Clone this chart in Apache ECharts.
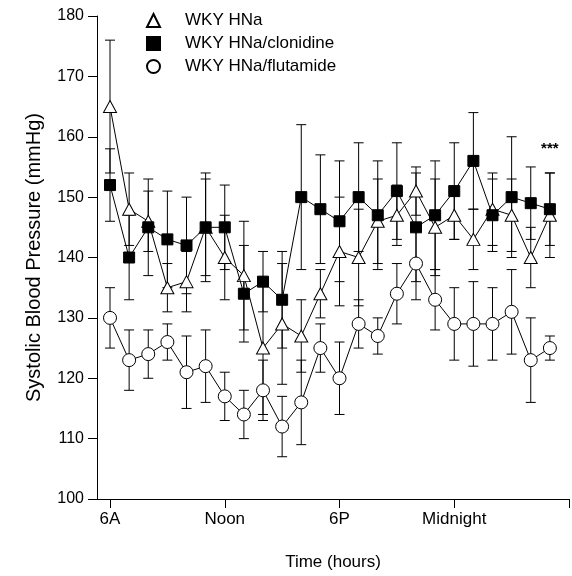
<!DOCTYPE html>
<html>
<head>
<meta charset="utf-8">
<script src="https://cdn.jsdelivr.net/npm/echarts@6/dist/echarts.min.js"></script>
<style>
html,body{margin:0;padding:0;background:#fff;}
#chart_div{width:572px;height:576px;}
</style>
</head>
<body>
<div id="chart_div"></div>
<script>
var FONT = "'Liberation Sans', Arial, sans-serif";

// hours after 6A
var hours = [0,1,2,3,4,5,6,7,8,9,10,11,12,13,14,15,16,17,18,19,20,21,22,23];
var tickHours = [0,6,12,18,24];
var tickLabels = ["6A","Noon","6P","Midnight",""];

var hnaMean = [165,148,146,135,136,145,140,137,125,129,127,134,141,140,146,147,151,145,147,143,148,147,140,147];
var hnaErr = [11,6,5,4,5,8,7,9,11,10,6,4,9,8,7,5,4,8,4,5,6,6,5,7];

var cloMean = [152,140,145,143,142,145,145,134,136,133,150,148,146,150,147,151,145,147,151,156,147,150,149,148];
var cloErr = [6,7,8,8,8,9,7,8,5,8,12,9,10,9,9,8,9,9,8,8,6,10,6,6];

var fluMean = [130,123,124,126,121,122,117,114,118,112,116,125,120,129,127,134,139,133,129,129,129,131,123,125];
var fluErr = [5,5,4,3,6,6,4,4,5,5,7,4,6,4,3,5,6,5,6,7,6,7,7,2];

var starMark = [23, 158];

function pointData(mean){
	var list = [];
	for(var i=0,l=mean.length;i<l;i++){
		list.push([hours[i], mean[i]]);
	}
	return list;
}

function errData(mean, err){
	var list = [];
	for(var i=0,l=mean.length;i<l;i++){
		list.push([hours[i], mean[i]-err[i], mean[i]+err[i]]);
	}
	return list;
}

// 误差线
function renderErrorBar(params, api){
	var low = api.coord([api.value(0), api.value(1)]);
	var high = api.coord([api.value(0), api.value(2)]);
	var w = 5;
	var style = {stroke:'#000', lineWidth:1};
	return {
		type:'group',
		children:[
			{type:'line', shape:{x1:low[0], y1:low[1], x2:high[0], y2:high[1]}, style:style},
			{type:'line', shape:{x1:low[0]-w, y1:low[1], x2:low[0]+w, y2:low[1]}, style:style},
			{type:'line', shape:{x1:high[0]-w, y1:high[1], x2:high[0]+w, y2:high[1]}, style:style}
		]
	};
}

function errSeries(name, mean, err){
	return {
		name:name + '-err',
		type:'custom',
		renderItem:renderErrorBar,
		data:errData(mean, err),
		encode:{x:0, y:[1,2]},
		z:1,
		silent:true
	};
}

function lineSeries(name, mean, symbol, size, fill, z){
	return {
		name:name,
		type:'line',
		data:pointData(mean),
		symbol:symbol,
		symbolSize:size,
		showAllSymbol:true,
		lineStyle:{color:'#000', width:1},
		itemStyle:{color:fill, borderColor:'#000', borderWidth:1},
		z:z,
		animation:false
	};
}

var chart = echarts.init(document.getElementById("chart_div"));

var cloSeries = lineSeries('WKY HNa/clonidine', cloMean, 'rect', 11, '#000', 5);
cloSeries.markPoint = {
	symbol:'circle',
	symbolSize:0,
	label:{show:true, position:'inside', formatter:'***', color:'#000', fontSize:15, fontWeight:'bold', fontFamily:FONT},
	data:[{coord:starMark}]
};

var option = {
	backgroundColor:'#fff',
	animation:false,
	textStyle:{fontFamily:FONT, color:'#000'},
	grid:{left:97, right:3, top:16, bottom:76, containLabel:false},
	legend:{
		orient:'vertical',
		left:141,
		top:7,
		itemWidth:13,
		itemHeight:13,
		itemGap:6,
		textStyle:{fontSize:17, color:'#000', fontFamily:FONT, padding:[0,0,0,20]},
		data:[
			{name:'WKY HNa', icon:'triangle'},
			{name:'WKY HNa/clonidine', icon:'rect'},
			{name:'WKY HNa/flutamide', icon:'circle'}
		]
	},
	xAxis:{
		type:'value',
		min:-0.68,
		max:24,
		name:'Time (hours)',
		nameLocation:'middle',
		nameGap:55,
		nameTextStyle:{fontSize:17, color:'#000', fontFamily:FONT},
		axisLine:{onZero:false, lineStyle:{color:'#000', width:1}},
		axisTick:{show:true, length:9, customValues:tickHours, lineStyle:{color:'#000'}},
		axisLabel:{
			customValues:tickHours,
			fontSize:17, color:'#000', margin:12, fontFamily:FONT,
			formatter:function(v){
				var idx = tickHours.indexOf(v);
				return idx >= 0 ? tickLabels[idx] : '';
			}
		},
		splitLine:{show:false}
	},
	yAxis:{
		type:'value',
		min:100,
		max:180,
		interval:10,
		name:'Systolic Blood Pressure (mmHg)',
		nameLocation:'middle',
		nameGap:53,
		nameTextStyle:{fontSize:20, color:'#000', fontFamily:FONT},
		axisLine:{show:true, onZero:false, lineStyle:{color:'#000', width:1}},
		axisTick:{show:true, length:9, lineStyle:{color:'#000'}},
		axisLabel:{fontSize:16, color:'#000', margin:13, fontFamily:FONT},
		splitLine:{show:false}
	},
	series:[
		errSeries('WKY HNa', hnaMean, hnaErr),
		errSeries('WKY HNa/clonidine', cloMean, cloErr),
		errSeries('WKY HNa/flutamide', fluMean, fluErr),
		lineSeries('WKY HNa', hnaMean, 'triangle', [13,12], '#fff', 3),
		lineSeries('WKY HNa/flutamide', fluMean, 'circle', 13, '#fff', 4),
		cloSeries
	]
};

chart.setOption(option);
</script>
</body>
</html>
